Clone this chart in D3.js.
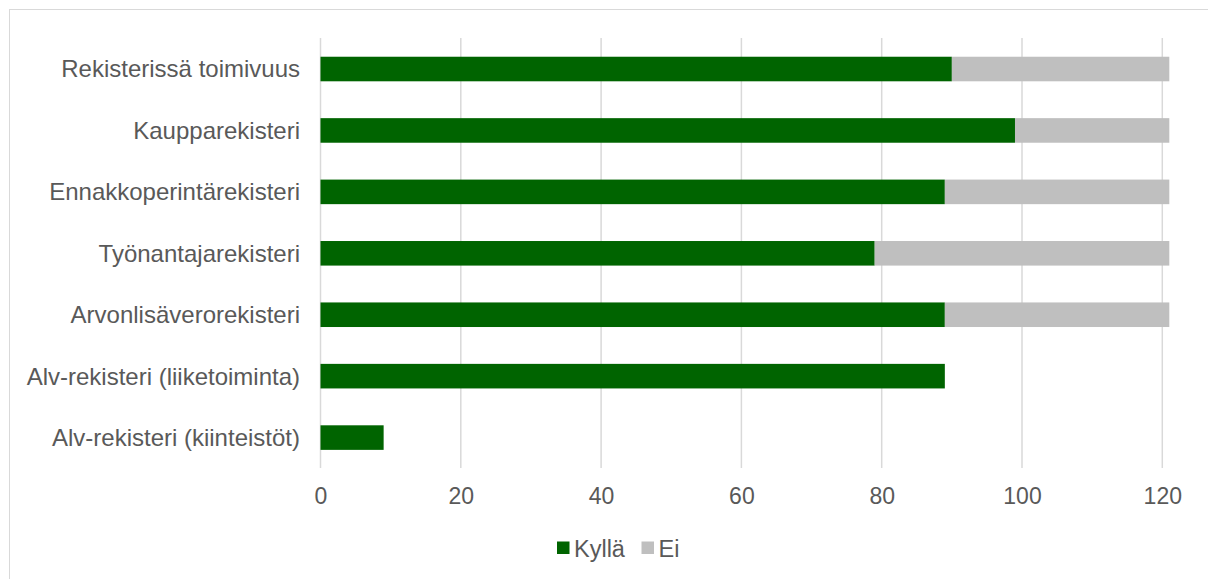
<!DOCTYPE html>
<html><head><meta charset="utf-8">
<script src="https://cdn.jsdelivr.net/npm/d3@7"></script>
<style>body{margin:0;background:#fff;}svg{display:block;font-family:"Liberation Sans",Arial,sans-serif;}</style>
</head><body><svg id="c" width="1208" height="579"></svg>
<script>
const categories = ["Rekisterissä toimivuus","Kaupparekisteri","Ennakkoperintärekisteri","Työnantajarekisteri","Arvonlisäverorekisteri","Alv-rekisteri (liiketoiminta)","Alv-rekisteri (kiinteistöt)"];
const kylla = [90,99,89,79,89,89,9];
const ei = [31,22,32,42,32,0,0];
const seriesNames = ["Kyllä","Ei"];
const seriesColors = ["#006400","#bfbfbf"];
const xTicks = [0,20,40,60,80,100,120];

const svg = d3.select("#c");
svg.append("rect").attr("x",9.5).attr("y",9.5).attr("width",1208).attr("height",579).attr("fill","#fff").attr("stroke","#d9d9d9");

const x = d3.scaleLinear().domain([0,120]).range([320.5,1162.3]);
const y = d3.scaleBand().domain(categories).range([38.3,468.3]).paddingInner(0.6).paddingOuter(0.3);

const g = svg.append("g");
g.selectAll("line.grid").data(xTicks).join("line").attr("class","grid")
  .attr("x1",d=>x(d)).attr("x2",d=>x(d)).attr("y1",38).attr("y2",468)
  .attr("stroke","#d9d9d9").attr("stroke-width",1.5);

const rows = categories.map((c,i)=>({c, vals:[kylla[i],ei[i]]}));
rows.forEach(r=>{
  let acc=0;
  r.vals.forEach((v,j)=>{
    if(v>0){
      g.append("rect").attr("x",x(acc)).attr("y",y(r.c)).attr("width",x(acc+v)-x(acc)).attr("height",y.bandwidth())
        .attr("fill",seriesColors[j]);
    }
    acc+=v;
  });
});

const xAxis = d3.axisBottom(x).tickValues(xTicks).tickSize(0).tickPadding(0);
const ax = svg.append("g").attr("transform","translate(0,468)").call(xAxis);
ax.select(".domain").remove();
ax.selectAll("text").attr("fill","#595959").attr("font-size","23px").attr("dy",null).attr("y",36);

const yAxis = d3.axisLeft(y).tickSize(0).tickPadding(0);
const ay = svg.append("g").attr("transform","translate(300,0)").call(yAxis);
ay.select(".domain").remove();
ay.selectAll("text").attr("fill","#595959").attr("font-size","24px").attr("dy","0.35em").attr("x",0);

const leg = svg.append("g");
const legX = [557,641.5];
seriesNames.forEach((n,i)=>{
  leg.append("rect").attr("x",legX[i]).attr("y",541.5).attr("width",12.5).attr("height",12.5).attr("fill",seriesColors[i]);
  leg.append("text").attr("x",legX[i]+17).attr("y",549).attr("dy","0.35em").attr("font-size","23.5px").attr("fill","#595959").text(n);
});
</script></body></html>
